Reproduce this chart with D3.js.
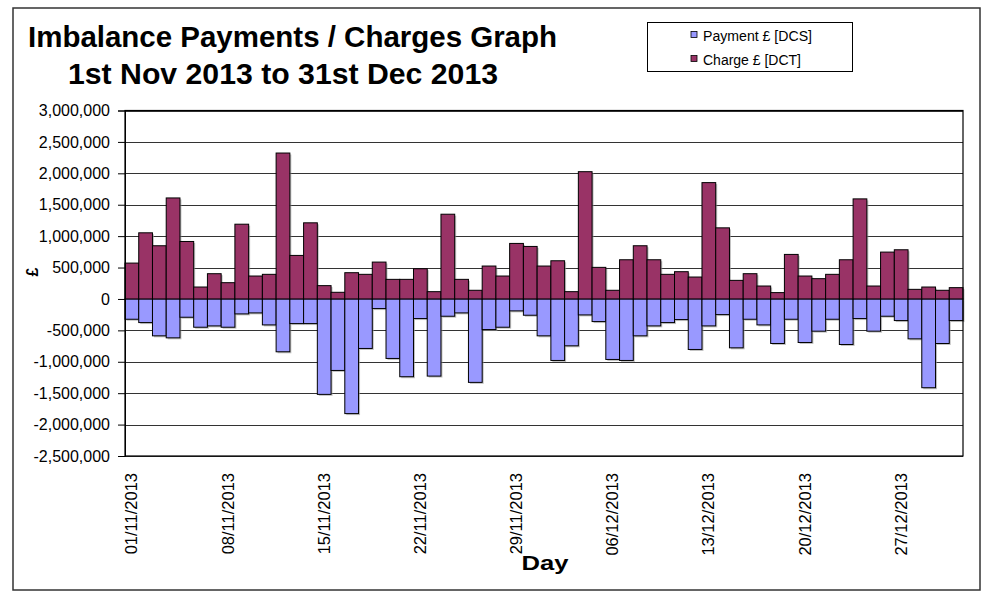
<!DOCTYPE html>
<html><head><meta charset="utf-8">
<script src="https://cdn.jsdelivr.net/npm/d3@7"></script>
<style>body{margin:0;background:#fff;}svg{display:block;font-family:"Liberation Sans",Arial,sans-serif;}</style>
</head><body><svg id="c" width="985" height="592"></svg>
<script>
const days = d3.range(1, 62).map(i => {
  const dt = new Date(2013, 10, i);
  return d3.timeFormat("%d/%m/%Y")(dt);
});
const payment = [-323000,-376000,-587000,-619000,-291000,-450000,-429000,-450000,-238000,-222000,
 -413000,-841000,-392000,-392000,-1519000,-1138000,-1825000,-788000,-153000,-947000,
 -1238000,-312000,-1228000,-275000,-222000,-1328000,-487000,-450000,-190000,-259000,
 -587000,-979000,-746000,-254000,-360000,-963000,-979000,-587000,-429000,-376000,
 -328000,-804000,-429000,-249000,-778000,-323000,-413000,-709000,-323000,-693000,
 -513000,-323000,-725000,-312000,-513000,-275000,-344000,-635000,-1413000,-709000,-344000];
const charge = [571000,1053000,847000,1608000,915000,190000,402000,259000,1190000,365000,
 392000,2323000,693000,1212000,212000,106000,418000,392000,587000,312000,
 312000,481000,116000,1349000,312000,138000,524000,365000,884000,836000,
 524000,608000,116000,2026000,503000,138000,624000,847000,624000,392000,
 434000,349000,1852000,1132000,296000,402000,206000,101000,709000,365000,
 323000,392000,624000,1593000,206000,746000,783000,153000,190000,138000,180000];
const yTicks = [3000000,2500000,2000000,1500000,1000000,500000,0,-500000,-1000000,-1500000,-2000000,-2500000];
const labelEvery = 7;
const seriesNames = ["Payment £ [DCS]", "Charge £ [DCT]"];
const colors = ["#9999FF", "#993366"];

const svg = d3.select("#c");
const L = 125, R = 963, T = 110.5, B = 456;
const x = d3.scaleBand().domain(days).range([L, R]).paddingInner(0).paddingOuter(0);
const y = d3.scaleLinear().domain([-2500000, 3000000]).range([B, T]);

// outer border
svg.append("rect").attr("x", 13).attr("y", 8).attr("width", 967).attr("height", 582)
  .attr("fill", "#fff").attr("stroke", "#333").attr("stroke-width", 1.5);

// gridlines
svg.append("g").selectAll("line").data(yTicks).join("line")
  .attr("x1", L).attr("x2", R)
  .attr("y1", d => Math.round(y(d)) + 0.5).attr("y2", d => Math.round(y(d)) + 0.5)
  .attr("stroke", "#333").attr("stroke-width", 1);

// shadows
const shadow = svg.append("g").attr("fill", "#999").attr("opacity", 0.6);
const drawShadow = (vals) => shadow.selectAll(null).data(vals).join("rect")
  .attr("x", (d, i) => x(days[i]) + 1.5)
  .attr("y", d => Math.min(y(d), y(0)) + 1.5)
  .attr("width", x.bandwidth())
  .attr("height", d => Math.abs(y(d) - y(0)));
drawShadow(charge); drawShadow(payment);

// bars
const drawBars = (vals, col) => svg.append("g").selectAll("rect").data(vals).join("rect")
  .attr("x", (d, i) => x(days[i]))
  .attr("y", d => Math.min(y(d), y(0)))
  .attr("width", x.bandwidth())
  .attr("height", d => Math.abs(y(d) - y(0)))
  .attr("fill", col).attr("stroke", "#000").attr("stroke-width", 1);
drawBars(payment, colors[0]);
drawBars(charge, colors[1]);

// plot border
svg.append("rect").attr("x", L).attr("y", T).attr("width", R - L).attr("height", B - T)
  .attr("fill", "none").attr("stroke", "#000").attr("stroke-width", 1.2);

// y axis
const yAxis = d3.axisLeft(y).tickValues(yTicks).tickSize(7).tickPadding(8)
  .tickFormat(d3.format(","));
const ya = svg.append("g").attr("transform", `translate(${L},0)`).call(yAxis);
ya.select(".domain").attr("stroke", "#000");
ya.selectAll(".tick line").attr("stroke", "#000");
ya.selectAll("text").attr("font-size", 16).attr("fill", "#000")
  .attr("font-family", '"Liberation Sans",Arial,sans-serif')
  .text(d => d3.format(",")(d).replace("−", "-"));

// x labels
const xl = svg.append("g").selectAll("text")
  .data(days.filter((d, i) => i % labelEvery === 0)).join("text")
  .attr("transform", d => `translate(${x(d) + x.bandwidth() / 2 + 5.5},473) rotate(-90)`)
  .attr("text-anchor", "end").attr("font-size", 16.5).attr("fill", "#000")
  .text(d => d);

// titles
svg.append("text").attr("x", 28).attr("y", 46.5).attr("font-size", 29).attr("font-weight", "bold")
  .attr("textLength", 529).attr("lengthAdjust", "spacingAndGlyphs")
  .text("Imbalance Payments / Charges Graph");
svg.append("text").attr("x", 68).attr("y", 83.5).attr("font-size", 29).attr("font-weight", "bold")
  .attr("textLength", 430).attr("lengthAdjust", "spacingAndGlyphs")
  .text("1st Nov 2013 to 31st Dec 2013");

svg.append("text").attr("x", 521.5).attr("y", 569.5).attr("font-size", 20).attr("font-weight", "bold")
  .attr("textLength", 47).attr("lengthAdjust", "spacingAndGlyphs").text("Day");

svg.append("text").attr("transform", "translate(38,272) rotate(-90)").attr("text-anchor", "middle")
  .attr("font-size", 16).attr("font-weight", "bold").text("£");

// legend
const lg = svg.append("g");
lg.append("rect").attr("x", 647.5).attr("y", 22.5).attr("width", 205).attr("height", 49)
  .attr("fill", "#fff").attr("stroke", "#000").attr("stroke-width", 1);
seriesNames.forEach((n, i) => {
  const yy = 31.5 + i * 24;
  lg.append("rect").attr("x", 691).attr("y", yy).attr("width", 6).attr("height", 6)
    .attr("fill", colors[i]).attr("stroke", "#000").attr("stroke-width", 0.8);
  lg.append("text").attr("x", 703).attr("y", 40.5 + i * 24).attr("font-size", 14)
    .attr("textLength", i === 0 ? 109 : 98).attr("lengthAdjust", "spacingAndGlyphs").text(n);
});
</script></body></html>
